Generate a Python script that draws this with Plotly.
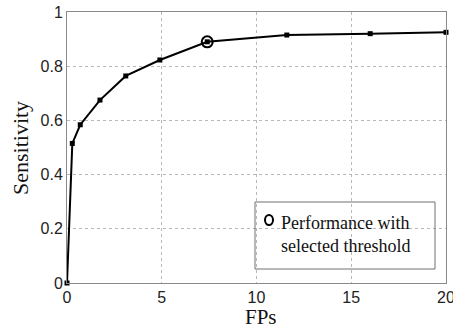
import plotly.graph_objects as go

# Data
fps = [0, 0.28, 0.70, 1.74, 3.1, 4.9, 7.4, 11.6, 16.0, 20.0]
sensitivity = [0, 0.515, 0.584, 0.675, 0.764, 0.823, 0.89, 0.915, 0.92, 0.925]
selected_fps = [7.4]
selected_sens = [0.89]
x_ticks = [0, 5, 10, 15, 20]
x_tick_labels = ["0", "5", "10", "15", "20"]
y_ticks = [0, 0.2, 0.4, 0.6, 0.8, 1]
y_tick_labels = ["0", "0.2", "0.4", "0.6", "0.8", "1"]
legend_text = "Performance with<br>selected threshold"

W, H = 453, 329
L, R, T, B = 67, 7, 12, 46
pw, ph = W - L - R, H - T - B

def px(x):
    return (x - L) / pw

def py(y):
    return (H - B - y) / ph

fig = go.Figure()
fig.add_trace(go.Scatter(
    x=fps, y=sensitivity, mode="lines+markers",
    line=dict(color="black", width=2),
    marker=dict(symbol="square", size=5, color="black"),
    cliponaxis=False, showlegend=False,
))
fig.add_trace(go.Scatter(
    x=selected_fps, y=selected_sens, mode="markers",
    marker=dict(symbol="circle-open", size=11, color="black", line=dict(width=2, color="black")),
    cliponaxis=False, showlegend=False,
))

tickfont = dict(family="Liberation Sans Narrow, Arial, Liberation Sans", size=16, color="#222")
axis_common = dict(
    showgrid=True, gridcolor="#b8b8b8", griddash="dot", gridwidth=1,
    showline=True, linecolor="#8a8a8a", linewidth=1, mirror=True,
    ticks="", zeroline=False, tickfont=tickfont, ticklabeloverflow="allow",
    automargin=False,
)
fig.update_xaxes(range=[0, 20], tickvals=x_ticks, ticktext=x_tick_labels, **axis_common)
fig.update_yaxes(range=[0, 1], tickvals=y_ticks, ticktext=y_tick_labels, **axis_common)

serif = "Liberation Serif"
fig.add_annotation(text="Sensitivity", xref="paper", yref="paper",
                   x=px(20), y=py(148), textangle=-90, showarrow=False,
                   font=dict(family=serif, size=22, color="#111"),
                   xanchor="center", yanchor="middle")
fig.add_annotation(text="FPs", xref="paper", yref="paper",
                   x=px(261), y=py(316.5), showarrow=False,
                   font=dict(family=serif, size=21, color="#111"),
                   xanchor="center", yanchor="middle")

# Legend box
fig.add_shape(type="rect", xref="paper", yref="paper",
              x0=px(255), x1=px(435), y0=py(269), y1=py(202),
              line=dict(color="#707070", width=1), fillcolor="rgba(0,0,0,0)")
fig.add_shape(type="circle", xref="paper", yref="paper",
              x0=px(265), x1=px(273), y0=py(225), y1=py(215),
              line=dict(color="black", width=2))
fig.add_annotation(text=legend_text, xref="paper", yref="paper",
                   x=px(279), y=py(234), showarrow=False, align="left",
                   font=dict(family=serif, size=18, color="#111"),
                   xanchor="left", yanchor="middle")

fig.update_layout(
    width=W, height=H,
    margin=dict(l=L, r=R, t=T, b=B),
    paper_bgcolor="white", plot_bgcolor="white",
    showlegend=False,
)
fig.write_html("out.html", config={"displayModeBar": False},
               post_script="document.body.style.margin='0';document.body.style.overflow='hidden';")
